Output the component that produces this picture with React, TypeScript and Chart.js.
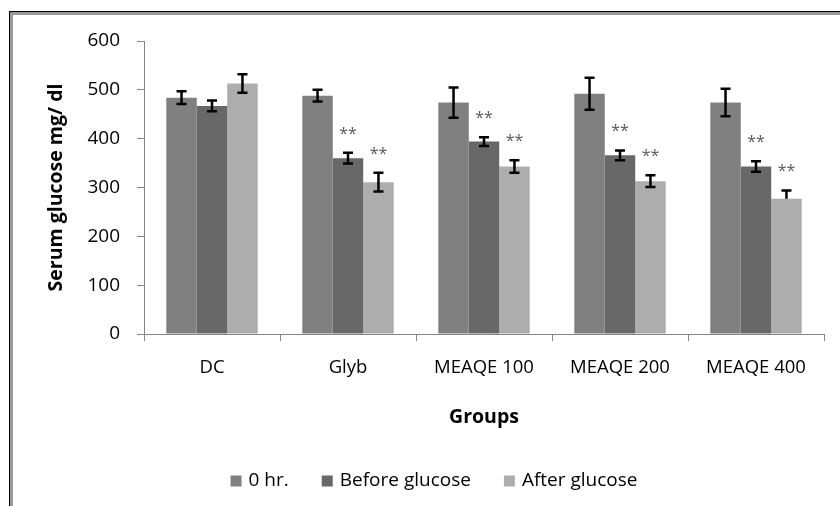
import { useEffect, useRef } from "react";
import { Chart, registerables } from "chart.js";

Chart.register(...registerables);

// ---- data ----
const groups = ["DC", "Glyb", "MEAQE 100", "MEAQE 200", "MEAQE 400"];
const seriesNames = ["0 hr.", "Before glucose", "After glucose"];
const zeroHr = [484, 488, 474, 492, 474];
const beforeGlucose = [467, 360, 394, 366, 343];
const afterGlucose = [513, 311, 343, 313, 277];
const errZeroHr = [13, 12, 31, 33, 28];
const errBefore = [11, 11, 9, 10, 11];
const errAfter = [19, 19, 13, 12, 17];
const errAfterLow = [19, 19, 13, 12, 0];
const starsZeroHr = ["", "", "", "", ""];
const starsBefore = ["", "**", "**", "**", "**"];
const starsAfter = ["", "**", "**", "**", "**"];
const yTickValues = [0, 100, 200, 300, 400, 500, 600];

const colors = ["#808080", "#686868", "#adadad"];
const FONT = "'Open Sans', sans-serif";
const AXIS_GRAY = "#868686";

const errorBarPlugin = {
  id: "errorBars",
  afterDatasetsDraw(chart: any) {
    const { ctx } = chart;
    const yScale = chart.scales.y;
    chart.data.datasets.forEach((ds: any, i: number) => {
      const meta = chart.getDatasetMeta(i);
      meta.data.forEach((bar: any, j: number) => {
        const v = ds.data[j];
        const up = ds.errUp[j];
        const lo = ds.errLow[j];
        const x = bar.x;
        const yHi = yScale.getPixelForValue(v + up);
        const yLo = yScale.getPixelForValue(v - lo);
        ctx.save();
        ctx.strokeStyle = "#000";
        ctx.lineWidth = 2.5;
        ctx.beginPath();
        ctx.moveTo(x, yHi);
        ctx.lineTo(x, yLo);
        ctx.moveTo(x - 5, yHi);
        ctx.lineTo(x + 5, yHi);
        if (lo > 0) {
          ctx.moveTo(x - 5, yLo);
          ctx.lineTo(x + 5, yLo);
        }
        ctx.stroke();
        const s = ds.stars[j];
        if (s) {
          ctx.fillStyle = "#595959";
          ctx.font = `16px ${FONT}`;
          ctx.textAlign = "center";
          ctx.textBaseline = "alphabetic";
          ctx.fillText(s, x, yHi - 14);
        }
        ctx.restore();
      });
    });
  },
};

const framePlugin = {
  id: "frame",
  beforeDraw(chart: any) {
    const { ctx, width, height } = chart;
    ctx.save();
    ctx.fillStyle = "#ffffff";
    ctx.fillRect(0, 0, width, height);
    ctx.fillStyle = "#000000";
    ctx.fillRect(9, 11, 1, height - 11);
    ctx.fillRect(9, 11, width - 9, 1);
    ctx.fillStyle = "#9a9a9a";
    ctx.fillRect(10, 12, 3, height - 12);
    ctx.fillRect(10, 12, width - 10, 3);
    ctx.restore();
  },
};

const legendPlugin = {
  id: "customLegend",
  afterDraw(chart: any) {
    const { ctx } = chart;
    const box = 11;
    const boxGap = 7;
    const itemGap = 33;
    const cy = 481;
    const cx = 434;
    ctx.save();
    ctx.font = `19px ${FONT}`;
    const items = chart.data.datasets.map((d: any) => ({
      label: d.label,
      color: d.backgroundColor,
      w: ctx.measureText(d.label).width,
    }));
    const total =
      items.reduce((a: number, it: any) => a + box + boxGap + it.w, 0) +
      itemGap * (items.length - 1);
    let x = cx - total / 2;
    items.forEach((it: any) => {
      ctx.fillStyle = it.color;
      ctx.fillRect(x, cy - box / 2, box, box);
      ctx.fillStyle = "#000";
      ctx.textAlign = "left";
      ctx.textBaseline = "middle";
      ctx.fillText(it.label, x + box + boxGap, cy);
      x += box + boxGap + it.w + itemGap;
    });
    ctx.restore();
  },
};

export default function App() {
  const ref = useRef<HTMLCanvasElement | null>(null);

  useEffect(() => {
    if (!ref.current) return;
    const chart = new Chart(ref.current, {
      type: "bar",
      data: {
        labels: groups,
        datasets: [
          {
            label: seriesNames[0],
            data: zeroHr,
            backgroundColor: colors[0],
            errUp: errZeroHr,
            errLow: errZeroHr,
            stars: starsZeroHr,
          } as any,
          {
            label: seriesNames[1],
            data: beforeGlucose,
            backgroundColor: colors[1],
            errUp: errBefore,
            errLow: errBefore,
            stars: starsBefore,
          } as any,
          {
            label: seriesNames[2],
            data: afterGlucose,
            backgroundColor: colors[2],
            errUp: errAfter,
            errLow: errAfterLow,
            stars: starsAfter,
          } as any,
        ],
      },
      options: {
        animation: false,
        responsive: false,
        layout: { padding: { left: 14, right: 16, top: 41, bottom: 60 } },
        datasets: {
          bar: { categoryPercentage: 0.672, barPercentage: 1.0, borderWidth: 0 },
        } as any,
        plugins: {
          legend: { display: false },
          tooltip: { enabled: false },
        },
        scales: {
          x: {
            grid: {
              display: true,
              drawOnChartArea: false,
              drawTicks: true,
              tickLength: 7,
              color: AXIS_GRAY,
              offset: true,
            },
            border: { display: true, color: AXIS_GRAY, width: 1 },
            ticks: { font: { family: FONT, size: 18.5 }, color: "#000", padding: 16 },
            title: {
              display: true,
              text: "Groups",
              font: { family: FONT, size: 19.5, weight: "bold" },
              color: "#000",
              padding: { top: 0, bottom: 17 },
            },
            afterFit: (s: any) => {
              s.height = 112;
            },
          },
          y: {
            min: 0,
            max: 600,
            afterBuildTicks: (s: any) => {
              s.ticks = yTickValues.map((v) => ({ value: v }));
            },
            ticks: { font: { family: FONT, size: 19 }, color: "#000", padding: 17 },
            grid: {
              display: true,
              drawOnChartArea: false,
              drawTicks: true,
              tickLength: 7,
              color: AXIS_GRAY,
            },
            border: { display: true, color: AXIS_GRAY, width: 1 },
            title: {
              display: true,
              text: "Serum glucose mg/ dl",
              font: { family: FONT, size: 19.5, weight: "bold" },
              color: "#000",
              padding: { top: 31, bottom: 0 },
            },
            afterFit: (s: any) => {
              s.width = 130;
            },
          },
        },
      },
      plugins: [framePlugin, errorBarPlugin, legendPlugin],
    });
    return () => chart.destroy();
  }, []);

  return (
    <div style={{ position: "fixed", left: 0, top: 0, width: 840, height: 506 }}>
      <canvas ref={ref} width={840} height={506} style={{ display: "block" }} />
    </div>
  );
}
